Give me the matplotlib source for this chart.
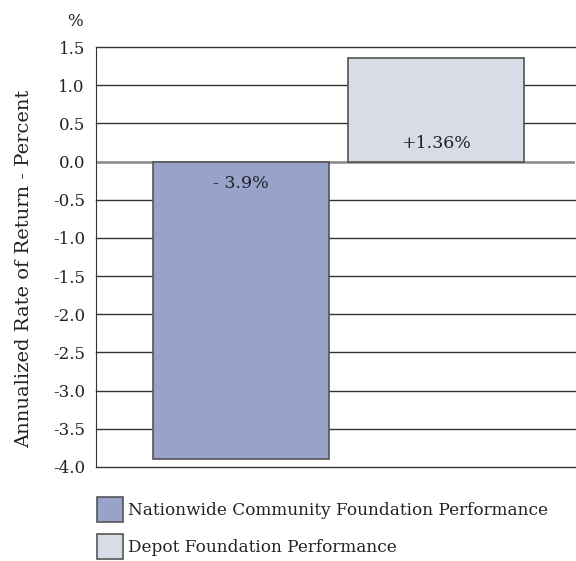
import matplotlib
matplotlib.use('Agg')
import matplotlib.pyplot as plt
from matplotlib.patches import Patch
import numpy as np

# data
names = ['Nationwide Community Foundation Performance', 'Depot Foundation Performance']
returns = [-3.9, 1.36]
bar_labels = ['- 3.9%', '+1.36%']
colors = ['#97a3cb', '#d8dce6']
yticks = np.arange(-4.0, 1.51, 0.5)

plt.rcParams['font.family'] = 'DejaVu Serif'

fig = plt.figure(figsize=(5.76, 5.61), dpi=100)
ax = fig.add_axes([0.1667, 0.1676, 0.8313, 0.7484])

x = np.arange(len(returns))
ax.bar(x, returns, width=0.9, color=colors, edgecolor='#555555', linewidth=1.2, zorder=3)

# value labels inside bars
ax.text(x[0], -0.29, bar_labels[0], ha='center', va='center', fontsize=12.5, color='#222222', zorder=4)
ax.text(x[1], 0.235, bar_labels[1], ha='center', va='center', fontsize=12.5, color='#222222', zorder=4)

ax.set_xlim(-0.744, 1.713)
ax.set_ylim(-4.0, 1.5)
ax.set_yticks(yticks)
ax.set_yticklabels(['%.1f' % v for v in yticks], fontsize=12)
ax.set_xticks([])

for v in yticks:
    if abs(v) < 1e-9:
        ax.axhline(v, color='#888888', linewidth=1.8, zorder=2)
    else:
        ax.axhline(v, color='#333333', linewidth=1.0, zorder=1, clip_on=False)

for s in ['top', 'right', 'bottom']:
    ax.spines[s].set_visible(False)
ax.spines['left'].set_color('#333333')
ax.tick_params(axis='y', length=0, pad=8, colors='#222222')

ax.set_ylabel('Annualized Rate of Return - Percent', fontsize=14, color='#222222')
ax.yaxis.set_label_coords(-0.1315, 0.471)
fig.text(0.13, 0.961, '%', ha='center', va='center', fontsize=12, color='#222222')

handles = [Patch(facecolor=c, edgecolor='#555555', linewidth=1.2) for c in colors]
leg = fig.legend(handles, names, loc='upper left', bbox_to_anchor=(0.168, 0.114),
                 frameon=False, fontsize=12.2, handlelength=1.55, handleheight=1.85,
                 handletextpad=0.3, labelspacing=0.75, borderaxespad=0, borderpad=0)
for t in leg.get_texts():
    t.set_color('#222222')

fig.savefig('out.png', dpi=100)
